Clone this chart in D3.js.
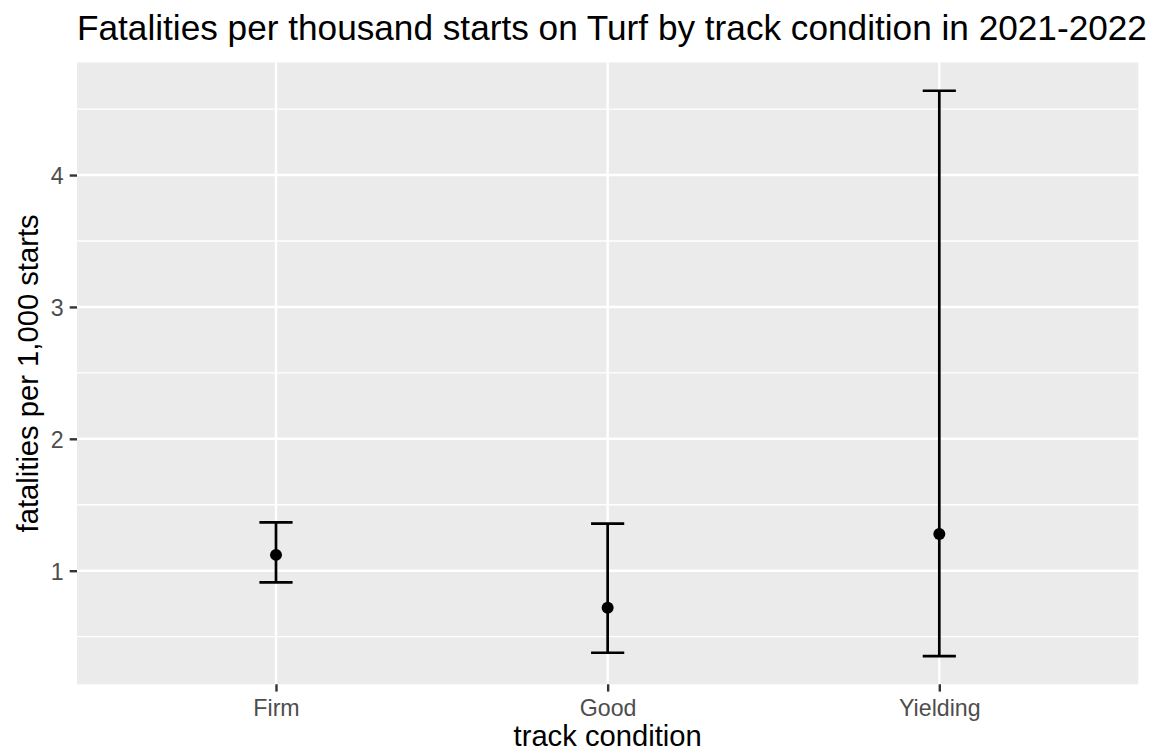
<!DOCTYPE html>
<html>
<head>
<meta charset="utf-8">
<script src="https://cdn.jsdelivr.net/npm/d3@7"></script>
<style>
  html, body { margin: 0; padding: 0; background: #ffffff; }
  svg { display: block; font-family: "Liberation Sans", Arial, sans-serif; }
</style>
</head>
<body>
<svg id="chart" width="1154" height="752"></svg>
<script>
// ---- data ----
const categories = ["Firm", "Good", "Yielding"];
const estimates = [1.12, 0.72, 1.278];
const lowerCI = [0.912, 0.378, 0.353];
const upperCI = [1.367, 1.357, 4.639];
const yTicks = [1, 2, 3, 4];
const yMinorTicks = [0.5, 1.5, 2.5, 3.5, 4.5];
const titleText = "Fatalities per thousand starts on Turf by track condition in 2021-2022";
const xTitleText = "track condition";
const yTitleText = "fatalities per 1,000 starts";

// ---- layout ----
const W = 1154, H = 752;
const margin = { top: 62.5, right: 15.7, bottom: 67.7, left: 77 };
const pw = W - margin.left - margin.right;
const ph = H - margin.top - margin.bottom;
const fontFam = "'Liberation Sans', Arial, sans-serif";

const svg = d3.select("#chart");
const g = svg.append("g").attr("transform", `translate(${margin.left},${margin.top})`);

const lo = d3.min(lowerCI), hi = d3.max(upperCI);
const pad = (hi - lo) * 0.05;
const y = d3.scaleLinear().domain([lo - pad, hi + pad]).range([ph, 0]);
const x = d3.scalePoint().domain(categories).range([0, pw]).padding(0.6);

// panel background
g.append("rect").attr("width", pw).attr("height", ph).attr("fill", "#EBEBEB");

// minor gridlines
g.selectAll(".minor").data(yMinorTicks.filter(v => v >= y.domain()[0] && v <= y.domain()[1]))
  .enter().append("line")
  .attr("x1", 0).attr("x2", pw)
  .attr("y1", d => y(d)).attr("y2", d => y(d))
  .attr("stroke", "#ffffff").attr("stroke-width", 1.3);

// major gridlines
g.selectAll(".majorY").data(yTicks).enter().append("line")
  .attr("x1", 0).attr("x2", pw)
  .attr("y1", d => y(d)).attr("y2", d => y(d))
  .attr("stroke", "#ffffff").attr("stroke-width", 2.4);
g.selectAll(".majorX").data(categories).enter().append("line")
  .attr("x1", d => x(d)).attr("x2", d => x(d))
  .attr("y1", 0).attr("y2", ph)
  .attr("stroke", "#ffffff").attr("stroke-width", 2.4);

// axes
const yAxis = g.append("g").call(d3.axisLeft(y).tickValues(yTicks).tickSize(7.3).tickPadding(5).tickFormat(d3.format("d")));
const xAxis = g.append("g").attr("transform", `translate(0,${ph})`)
  .call(d3.axisBottom(x).tickSize(7.3).tickPadding(5));
[yAxis, xAxis].forEach(a => {
  a.select(".domain").remove();
  a.selectAll(".tick line").attr("stroke", "#333333").attr("stroke-width", 2.4);
  a.selectAll(".tick text").attr("fill", "#4D4D4D").style("font-size", "23.2px")
    .style("font-family", fontFam);
});
xAxis.selectAll(".tick text").attr("dy", null).attr("y", 716 - (margin.top + ph));
yAxis.selectAll(".tick text").attr("x", -13.3).attr("dy", "0.36em");

// error bars
const rows = categories.map((c, i) => ({ c, est: estimates[i], lo: lowerCI[i], hi: upperCI[i] }));
const capHalf = x.step() * 0.05;
const eb = g.selectAll(".eb").data(rows).enter().append("g");
eb.append("line").attr("x1", d => x(d.c)).attr("x2", d => x(d.c))
  .attr("y1", d => y(d.lo)).attr("y2", d => y(d.hi))
  .attr("stroke", "#000").attr("stroke-width", 2.7);
eb.append("line").attr("x1", d => x(d.c) - capHalf).attr("x2", d => x(d.c) + capHalf)
  .attr("y1", d => y(d.hi)).attr("y2", d => y(d.hi))
  .attr("stroke", "#000").attr("stroke-width", 2.7);
eb.append("line").attr("x1", d => x(d.c) - capHalf).attr("x2", d => x(d.c) + capHalf)
  .attr("y1", d => y(d.lo)).attr("y2", d => y(d.lo))
  .attr("stroke", "#000").attr("stroke-width", 2.7);
eb.append("circle").attr("cx", d => x(d.c)).attr("cy", d => y(d.est)).attr("r", 6).attr("fill", "#000");

// titles
svg.append("text").attr("x", margin.left).attr("y", 39.5)
  .attr("fill", "#000").style("font-size", "35.2px").text(titleText);
svg.append("text").attr("x", margin.left + pw / 2).attr("y", 745.5)
  .attr("text-anchor", "middle").attr("fill", "#000").style("font-size", "29.2px").text(xTitleText);
svg.append("text").attr("transform", `translate(38,${margin.top + ph / 2}) rotate(-90)`)
  .attr("text-anchor", "middle").attr("fill", "#000").style("font-size", "29.2px").text(yTitleText);
</script>
</body>
</html>
